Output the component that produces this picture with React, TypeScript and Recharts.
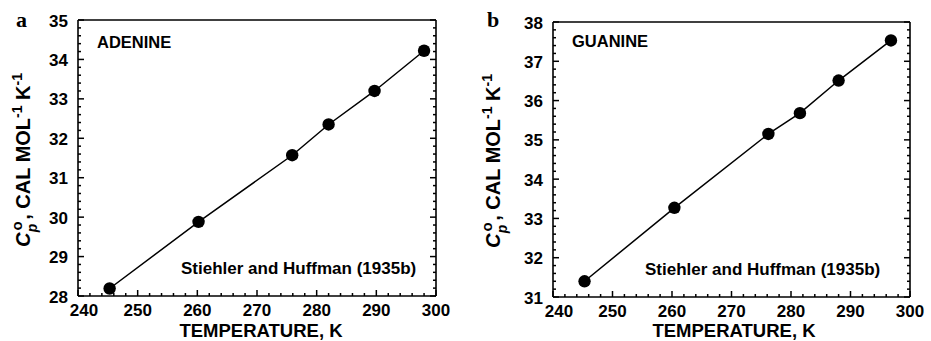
import React from 'react';
import { ComposedChart, Line, XAxis, YAxis } from 'recharts';

// ---- data ----
const adenineT = [245.3, 260.2, 275.9, 282.0, 289.7, 298.0];
const adenineCp = [28.19, 29.88, 31.57, 32.35, 33.2, 34.22];
const guanineT = [245.3, 260.4, 276.2, 281.5, 288.0, 296.8];
const guanineCp = [31.4, 33.27, 35.15, 35.68, 36.51, 37.53];

const xMajorTicks = [240, 250, 260, 270, 280, 290, 300];
const adenineYTicks = [28, 29, 30, 31, 32, 33, 34, 35];
const guanineYTicks = [31, 32, 33, 34, 35, 36, 37, 38];

const range = (a: number, b: number, step: number) => {
  const out: number[] = [];
  const n = Math.round((b - a) / step);
  for (let i = 0; i <= n; i++) out.push(+(a + i * step).toFixed(4));
  return out;
};
const xMinorTicks = range(240, 300, 2);
const adenineYMinor = range(28, 35, 0.2);
const guanineYMinor = range(31, 38, 0.2);

const FONT = '"Liberation Sans", Arial, Helvetica, sans-serif';
const SERIF = '"Liberation Serif", "Times New Roman", serif';

const lineStyle = { stroke: '#000', strokeWidth: 1.6 };

const Dot = (props: any) => {
  const { cx, cy } = props;
  if (cx == null || cy == null) return null;
  return <circle cx={cx} cy={cy} r={6.2} fill="#000" />;
};

type Side = 'bottom' | 'top' | 'left' | 'right';

const makeTick = (side: Side, majors: number[], showLabels: boolean) => (props: any) => {
  const { x, y, payload } = props;
  const v = payload.value as number;
  const isMajor = majors.some((m) => Math.abs(m - v) < 1e-6);
  const len = isMajor ? 6 : 3;
  let line: React.ReactNode = null;
  let label: React.ReactNode = null;
  if (side === 'bottom') {
    line = <line x1={x} y1={y} x2={x} y2={y - len} stroke="#000" strokeWidth={1.5} />;
    if (showLabels && isMajor) {
      const shift = v === majors[0] ? 6 : 0;
      label = (
        <text x={x + shift} y={y + 19.5} textAnchor="middle" fontFamily={FONT} fontWeight="bold" fontSize={17} fill="#000">
          {v}
        </text>
      );
    }
  } else if (side === 'top') {
    line = <line x1={x} y1={y} x2={x} y2={y + len} stroke="#000" strokeWidth={1.5} />;
  } else if (side === 'left') {
    line = <line x1={x} y1={y} x2={x + len} y2={y} stroke="#000" strokeWidth={1.5} />;
    if (showLabels && isMajor) {
      label = (
        <text x={x - 10} y={y + 6.5} textAnchor="end" fontFamily={FONT} fontWeight="bold" fontSize={17} fill="#000">
          {v}
        </text>
      );
    }
  } else {
    line = <line x1={x} y1={y} x2={x - len} y2={y} stroke="#000" strokeWidth={1.5} />;
  }
  return (
    <g>
      {line}
      {label}
    </g>
  );
};

interface PanelProps {
  temps: number[];
  cps: number[];
  yTicks: number[];
  yMinor: number[];
  margin: { top: number; left: number; right: number; bottom: number };
  width: number;
}

function Panel({ temps, cps, yTicks, yMinor, margin, width }: PanelProps) {
  const data = temps.map((t, i) => ({ t, cp: cps[i] }));
  const xDom: [number, number] = [240, 300];
  const yDom: [number, number] = [yTicks[0], yTicks[yTicks.length - 1]];
  return (
    <ComposedChart width={width} height={341} data={data} margin={margin}>
      <XAxis xAxisId="main" dataKey="t" type="number" domain={xDom} ticks={xMinorTicks} interval={0}
        height={1} tickSize={0} tickMargin={0} axisLine={lineStyle} tickLine={false}
        tick={makeTick('bottom', xMajorTicks, true)} allowDataOverflow />
      <XAxis xAxisId="top" orientation="top" type="number" domain={xDom} ticks={xMinorTicks} interval={0}
        height={1} tickSize={0} tickMargin={0} axisLine={lineStyle} tickLine={false}
        tick={makeTick('top', xMajorTicks, false)} allowDataOverflow />
      <YAxis yAxisId="main" type="number" domain={yDom} ticks={yMinor} interval={0}
        width={1} tickSize={0} tickMargin={0} axisLine={lineStyle} tickLine={false}
        tick={makeTick('left', yTicks, true)} allowDataOverflow />
      <YAxis yAxisId="right" orientation="right" type="number" domain={yDom} ticks={yMinor} interval={0}
        width={1} tickSize={0} tickMargin={0} axisLine={lineStyle} tickLine={false}
        tick={makeTick('right', yTicks, false)} allowDataOverflow />
      <Line xAxisId="main" yAxisId="main" dataKey="cp" type="linear" stroke="#000" strokeWidth={1.5}
        dot={<Dot />} activeDot={false} isAnimationActive={false} />
    </ComposedChart>
  );
}

const YLabel = ({ x, y }: { x: number; y: number }) => (
  <text transform={`translate(${x},${y}) rotate(-90)`} textAnchor="middle" fontFamily={FONT}
    fontWeight="bold" fontSize={20} fill="#000">
    <tspan fontStyle="italic">C</tspan>
    <tspan dx={2} dy={-8} fontSize={15}>o</tspan>
    <tspan dx={-11} dy={15} fontSize={14} fontStyle="italic">p</tspan>
    <tspan dx={4} dy={-7}>, CAL MOL</tspan>
    <tspan dy={-8} fontSize={14}>-1</tspan>
    <tspan dy={8}> K</tspan>
    <tspan dy={-8} fontSize={14}>-1</tspan>
  </text>
);

export default function App() {
  return (
    <div style={{ position: 'absolute', left: 0, top: 0, width: 931, height: 341, background: '#fff' }}>
      <div style={{ position: 'absolute', left: 0, top: 0 }}>
        <Panel temps={adenineT} cps={adenineCp} yTicks={adenineYTicks} yMinor={adenineYMinor}
          width={465} margin={{ top: 19, left: 77, right: 28, bottom: 44 }} />
      </div>
      <div style={{ position: 'absolute', left: 465, top: 0 }}>
        <Panel temps={guanineT} cps={guanineCp} yTicks={guanineYTicks} yMinor={guanineYMinor}
          width={466} margin={{ top: 21, left: 87, right: 20, bottom: 43 }} />
      </div>
      <svg width={931} height={341} style={{ position: 'absolute', left: 0, top: 0, pointerEvents: 'none' }}>
        <text x={16} y={27} fontFamily={SERIF} fontWeight="bold" fontSize={22} fill="#000">a</text>
        <text x={487} y={27} fontFamily={SERIF} fontWeight="bold" fontSize={22} fill="#000">b</text>
        <text x={97} y={48} fontFamily={FONT} fontWeight="bold" fontSize={16.5} fill="#000">ADENINE</text>
        <text x={572} y={47} fontFamily={FONT} fontWeight="bold" fontSize={16.5} fill="#000">GUANINE</text>
        <text x={181} y={274} fontFamily={FONT} fontWeight="bold" fontSize={17} fill="#000">Stiehler and Huffman (1935b)</text>
        <text x={645} y={275} fontFamily={FONT} fontWeight="bold" fontSize={17} fill="#000">Stiehler and Huffman (1935b)</text>
        <text x={261} y={337} textAnchor="middle" fontFamily={FONT} fontWeight="bold" fontSize={18.5} fill="#000">TEMPERATURE, K</text>
        <text x={734} y={337} textAnchor="middle" fontFamily={FONT} fontWeight="bold" fontSize={18.5} fill="#000">TEMPERATURE, K</text>
        <YLabel x={30} y={160} />
        <YLabel x={500} y={161} />
      </svg>
    </div>
  );
}
